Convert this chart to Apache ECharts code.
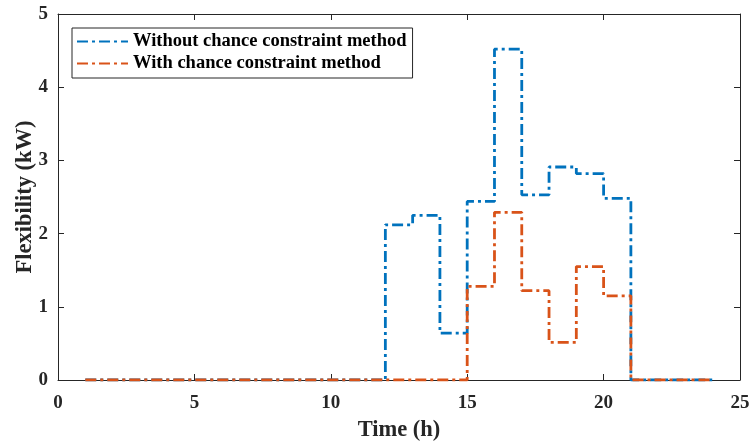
<!DOCTYPE html>
<html><head><meta charset="utf-8">
<script src="https://cdn.jsdelivr.net/npm/echarts@6/dist/echarts.min.js"></script>
<style>html,body{margin:0;padding:0;background:#fff}#c{width:754px;height:441px}</style>
</head><body><div id="c"></div>
<script>
const hours = [1,2,3,4,5,6,7,8,9,10,11,12,13,14,15,16,17,18,19,20,21,22,23,24];
const withoutCC = [0,0,0,0,0,0,0,0,0,0,0,2.12,2.25,0.64,2.44,4.52,2.53,2.91,2.82,2.48,0,0,0,0];
const withCC    = [0,0,0,0,0,0,0,0,0,0,0,0,0,0,1.28,2.29,1.22,0.515,1.55,1.15,0,0,0,0];
const seriesNames = ['Without chance constraint method','With chance constraint method'];
const colors = ['#0072BD','#D95319'];

const font = 'Liberation Serif';
const chart = echarts.init(document.getElementById('c'));
const mk = (name, vals, color, z) => ({
  name, type:'line', step:'end', symbol:'none', z,
  data: hours.map((h,i)=>[h, vals[i]]),
  lineStyle:{color, width:2.8, type:[11,4,3,4]},
  itemStyle:{color}
});
const axCol = '#262626';
const tick = {show:true, inside:true, length:6, lineStyle:{color:axCol, width:1}};
const line = {show:true, onZero:false, lineStyle:{color:axCol, width:1}};
const lbl = {fontFamily:font, fontWeight:'bold', fontSize:19, color:axCol};
const nm = {fontFamily:font, fontWeight:'bold', fontSize:22.5, color:axCol};
chart.setOption({
  animation:false,
  grid:{left:58, right:14, top:14, bottom:61, containLabel:false, outerBoundsMode:'none'},
  legend:{
    left:72, top:28, orient:'vertical', itemGap:3, itemWidth:51, itemHeight:10,
    borderColor:axCol, borderWidth:1, padding:[4,6,5,4], borderRadius:0,
    itemStyle:{color:'transparent', borderWidth:0},
    textStyle:{fontFamily:font, fontWeight:'bold', fontSize:18.5, color:'#000'},
    data: seriesNames
  },
  xAxis:[{
    type:'value', min:0, max:25, interval:5,
    name:'Time (h)', nameLocation:'middle', nameGap:39, nameTextStyle:nm, nameMoveOverlap:false,
    axisLine:line, axisTick:tick,
    axisLabel:{...lbl, margin:14},
    splitLine:{show:false}
  },{
    type:'value', min:0, max:25, interval:5, position:'top',
    axisLine:line, axisTick:tick,
    axisLabel:{show:false}, splitLine:{show:false}
  }],
  yAxis:[{
    type:'value', min:0, max:5, interval:1,
    name:'Flexibility (kW)', nameLocation:'middle', nameGap:21, nameTextStyle:nm, nameMoveOverlap:false,
    axisLine:line, axisTick:tick,
    axisLabel:{...lbl, margin:10},
    splitLine:{show:false}
  },{
    type:'value', min:0, max:5, interval:1, position:'right',
    axisLine:line, axisTick:tick,
    axisLabel:{show:false}, splitLine:{show:false}
  }],
  series:[
    mk(seriesNames[0], withoutCC, colors[0], 2),
    mk(seriesNames[1], withCC, colors[1], 3)
  ]
});
</script></body></html>
